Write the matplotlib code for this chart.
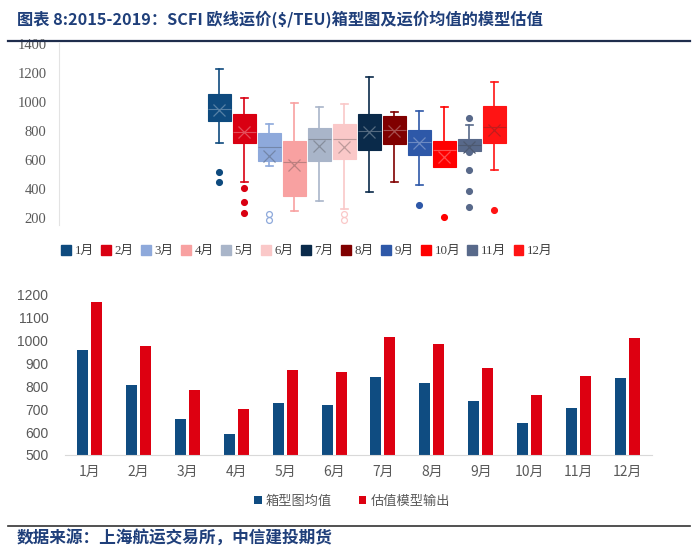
import matplotlib
matplotlib.use('Agg')
import matplotlib.pyplot as plt
import matplotlib.patches as mpatches
from matplotlib.lines import Line2D
import numpy as np

plt.rcParams['font.family'] = ['Noto Sans CJK SC', 'DejaVu Sans']

# ---- data: box plot ----
months = ['1月', '2月', '3月', '4月', '5月', '6月', '7月', '8月', '9月', '10月', '11月', '12月']
box_lo = [715, 445, 560, 246, 315, 260, 375, 445, 428, 551, 657, 530]
box_q1 = [867, 715, 592, 348, 592, 604, 669, 712, 636, 551, 662, 715]
box_med = [955, 795, 687, 588, 745, 745, 800, 807, 726, 668, 703, 830]
box_mean = [945, 795, 629, 565, 696, 692, 795, 800, 715, 622, 692, 807]
box_q3 = [1056, 918, 789, 731, 819, 851, 918, 906, 809, 733, 745, 975]
box_hi = [1227, 1029, 849, 992, 969, 987, 1176, 932, 938, 964, 842, 1142]
box_fliers = [[518, 445], [405, 306, 230], [223, 182], [], [], [223, 184],
              [], [], [285], [205], [888, 657, 530, 387, 272], [251]]
box_colors = ['#0E4A7E', '#D90012', '#8EA9DB', '#F8A1A1', '#A9B5C9', '#FAC8C8',
              '#0A2A4A', '#800000', '#2E58A8', '#FF0000', '#58698A', '#FF1414']
hollow = [False, False, True, False, False, True, False, False, False, False, False, False]

# ---- data: bar chart ----
bar_mean = [960, 807, 656, 590, 726, 718, 839, 813, 734, 641, 704, 835]
bar_model = [1170, 976, 785, 699, 870, 862, 1017, 986, 881, 762, 844, 1011]
bar_labels = ['箱型图均值', '估值模型输出']

W, H = 700, 552
fig = plt.figure(figsize=(7, 5.52), dpi=100)

def fx(px): return px / W
def fy(py): return 1 - py / H

# title + rules
fig.text(fx(17), fy(19), '图表 8:2015-2019：SCFI 欧线运价($/TEU)箱型图及运价均值的模型估值',
         fontsize=11.7, fontweight='bold', color='#1F3F7A', va='center', ha='left')
fig.add_artist(Line2D([fx(8), fx(690)], [fy(41), fy(41)], color='#1F2D4D', lw=1.6))
fig.add_artist(Line2D([fx(8), fx(690)], [fy(526), fy(526)], color='#333333', lw=1.2))
fig.text(fx(17), fy(539), '数据来源：上海航运交易所，中信建投期货',
         fontsize=12, fontweight='bold', color='#1F3F7A', va='center', ha='left')

# ---- top: box plot ----
ax1 = fig.add_axes([fx(59), fy(225), fx(596), (225 - 42.9) / H])
stats = []
for i in range(12):
    stats.append(dict(whislo=box_lo[i], q1=box_q1[i], med=box_med[i], mean=box_mean[i],
                      q3=box_q3[i], whishi=box_hi[i], fliers=np.array(box_fliers[i])))

def mark_color(c):
    r, g, b = matplotlib.colors.to_rgb(c)
    lum = 0.3 * r + 0.59 * g + 0.11 * b
    t = (1, 1, 1) if lum < 0.35 else (0.2, 0.2, 0.2)
    return tuple(0.7 * a + 0.3 * b2 for a, b2 in zip((r, g, b), t))

positions = np.arange(1, 13)
for i in range(12):
    c = box_colors[i]
    mc = mark_color(c)
    ax1.bxp([stats[i]], positions=[positions[i]], widths=0.94, capwidths=0.28,
            showmeans=True, patch_artist=True,
            boxprops=dict(facecolor=c, edgecolor=c, linewidth=0.8),
            whiskerprops=dict(color=c, linewidth=1.2),
            capprops=dict(color=c, linewidth=1.2),
            medianprops=dict(color=mc, linewidth=0.8),
            meanprops=dict(marker='x', markeredgecolor=mc, markersize=9, markeredgewidth=0.9),
            flierprops=dict(marker='o', markersize=4.2,
                            markerfacecolor='none' if hollow[i] else c,
                            markeredgecolor=c, markeredgewidth=0.9))

ax1.set_xlim(6.5 - 11.92, 6.5 + 11.92)
ax1.set_ylim(150, 1410)
ax1.set_yticks(range(200, 1401, 200))
ax1.set_xticks([])
for s in ['top', 'right', 'bottom']:
    ax1.spines[s].set_visible(False)
ax1.spines['left'].set_color('#E3E3E3')
ax1.tick_params(axis='y', length=0, pad=9, labelcolor='#595959')
for lab in ax1.get_yticklabels():
    lab.set_fontfamily(['Liberation Serif'])
    lab.set_fontsize(10.5)

handles = [mpatches.Patch(facecolor=box_colors[i], edgecolor=box_colors[i]) for i in range(12)]
leg1 = fig.legend(handles, months, loc='center', bbox_to_anchor=(fx(307), fy(251)), ncol=12,
                  frameon=False, handlelength=0.75, handleheight=0.85, handletextpad=0.3,
                  columnspacing=0.55, prop={'family': ['Liberation Serif', 'Noto Sans CJK SC'], 'size': 9.3})
for t in leg1.get_texts():
    t.set_color('#404040')

# ---- bottom: bar chart ----
ax2 = fig.add_axes([fx(65), fy(455), fx(587), 160.3 / H])
x = np.arange(12)
ax2.bar(x - 0.143, bar_mean, width=0.225, color='#0F4C81', label=bar_labels[0])
ax2.bar(x + 0.143, bar_model, width=0.225, color='#DD0011', label=bar_labels[1])
ax2.set_xlim(-0.5, 11.5)
ax2.set_ylim(500, 1200)
ax2.set_yticks(range(500, 1201, 100))
ax2.set_xticks(x)
ax2.set_xticklabels(months)
for s in ['top', 'right', 'left']:
    ax2.spines[s].set_visible(False)
ax2.spines['bottom'].set_color('#D9D9D9')
ax2.tick_params(axis='both', length=0, labelcolor='#595959', labelsize=10)
ax2.tick_params(axis='y', pad=12)
ax2.tick_params(axis='x', pad=7)
for lab in ax2.get_yticklabels():
    lab.set_fontfamily(['Liberation Sans'])

leg2 = fig.legend(loc='center', bbox_to_anchor=(fx(352), fy(501)), ncol=2, frameon=False,
                  handlelength=0.6, handleheight=0.6, handletextpad=0.3, columnspacing=2.0,
                  fontsize=9.5)
for t in leg2.get_texts():
    t.set_color('#595959')

fig.savefig('out.png', dpi=100)
